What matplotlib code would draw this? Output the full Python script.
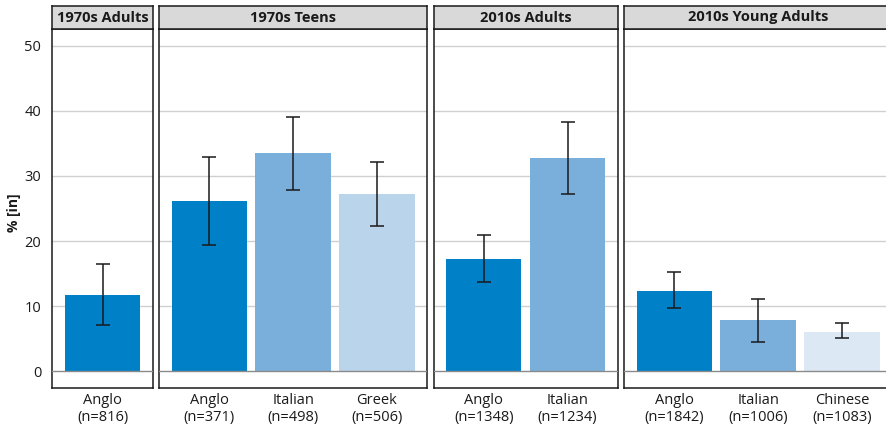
import matplotlib
matplotlib.use("Agg")
import matplotlib.pyplot as plt
import numpy as np

plt.rcParams['font.family'] = ['Open Sans', 'DejaVu Sans']

# Data
panels = ["1970s Adults", "1970s Teens", "2010s Adults", "2010s Young Adults"]
groups = [["Anglo"], ["Anglo", "Italian", "Greek"], ["Anglo", "Italian"],
          ["Anglo", "Italian", "Chinese"]]
counts = [[816], [371, 498, 506], [1348, 1234], [1842, 1006, 1083]]
pct = [[11.8], [26.1, 33.5, 27.2], [17.2, 32.7], [12.4, 7.9, 6.1]]
ci_low = [[7.1], [19.4, 27.9, 22.3], [13.7, 27.3], [9.7, 4.5, 5.2]]
ci_high = [[16.5], [32.9, 39.0, 32.2], [21.0, 38.2], [15.3, 11.1, 7.4]]
yticks = [0, 10, 20, 30, 40, 50]

colors = {"Anglo": "#0080c6", "Italian": "#7aafdc", "Greek": "#bad4ec",
          "Chinese": "#dde8f5"}

W, H = 887, 430
fig = plt.figure(figsize=(W / 100, H / 100), dpi=100)

# layout in pixels
left0 = 52.3
unit = 83.7
gap = 6.5
plot_top = 29.3
plot_bot = 387.7
strip_top = 5.7


def px_rect(x0, y0, w, h):
    return [x0 / W, 1 - (y0 + h) / H, w / W, h / H]


x = left0
for i, name in enumerate(panels):
    n = len(groups[i])
    width = (n - 1 + 1.2) * unit
    ax = fig.add_axes(px_rect(x, plot_top, width, plot_bot - plot_top))
    xs = np.arange(n)
    vals = np.array(pct[i])
    lo = np.array(ci_low[i])
    hi = np.array(ci_high[i])
    ax.bar(xs, vals, width=0.9, color=[colors[g] for g in groups[i]], zorder=2)
    ax.errorbar(xs, vals, yerr=[vals - lo, hi - vals], fmt='none',
                ecolor='#1a1a1a', elinewidth=1.1, capsize=5, capthick=1.1,
                zorder=4)
    ax.set_xlim(-0.6, n - 1 + 0.6)
    ax.set_ylim(-2.5, 52.5)
    ax.set_yticks(yticks)
    for t in yticks[1:]:
        ax.axhline(t, color='#d0d0d0', lw=1.0, zorder=1)
    ax.axhline(0, color='#8a8a8a', lw=1.0, zorder=3)
    ax.set_xticks(xs)
    ax.set_xticklabels([f"{g}\n(n={c})" for g, c in zip(groups[i], counts[i])],
                       fontsize=10.5, color='#1a1a1a', linespacing=1.2)
    ax.tick_params(axis='x', length=0, pad=4)
    if i == 0:
        ax.tick_params(axis='y', length=0, pad=8, labelsize=10.5,
                       labelcolor='#1a1a1a')
    else:
        ax.tick_params(axis='y', length=0, labelleft=False)
    for sp in ax.spines.values():
        sp.set_color('#1a1a1a')
        sp.set_linewidth(1.1)

    # facet strip
    sax = fig.add_axes(px_rect(x, strip_top, width, plot_top - strip_top))
    sax.set_facecolor('#d9d9d9')
    sax.set_xticks([])
    sax.set_yticks([])
    for sp in sax.spines.values():
        sp.set_color('#1a1a1a')
        sp.set_linewidth(1.1)
    sax.text(0.5, 0.5, name, transform=sax.transAxes, ha='center',
             va='center', fontsize=10.5, fontweight='bold', color='#1a1a1a')

    x += width + gap

fig.text(14 / W, 1 - 213 / H, "% [in]", rotation=90, ha='center', va='center',
         fontsize=10, fontweight='bold', color='#1a1a1a')

fig.savefig("out.png", dpi=100)
